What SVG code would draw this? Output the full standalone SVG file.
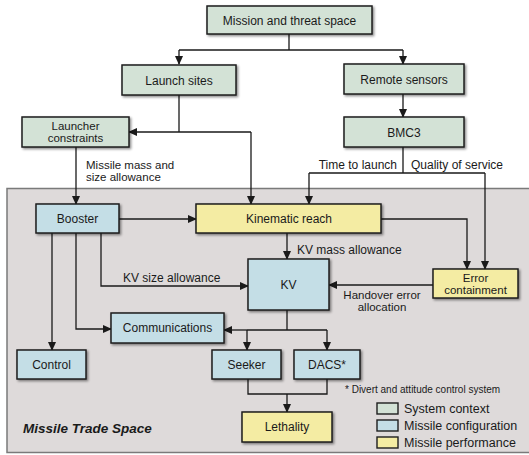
<svg xmlns="http://www.w3.org/2000/svg" width="529" height="455" viewBox="0 0 529 455">
<defs>
<marker id="arr" markerWidth="9" markerHeight="8" refX="8" refY="4" orient="auto" markerUnits="userSpaceOnUse">
<path d="M0,0 L9,4 L0,8 Z" fill="#1a1a1a"/>
</marker>
<filter id="sh" x="-10%" y="-10%" width="130%" height="140%">
<feDropShadow dx="1.5" dy="1.5" stdDeviation="0.8" flood-color="#000" flood-opacity="0.45"/>
</filter>
<style>
text{font-family:"Liberation Sans",Arial,Helvetica,sans-serif;font-size:12px;fill:#1a1a1a}
.c{text-anchor:middle}
.t2{font-size:11.5px}
.box{stroke:#1e1e1e;stroke-width:1.5;filter:url(#sh)}
.ctx{fill:#d3e2d6}
.cfg{fill:#c4dee6}
.perf{fill:#f4eca3}
.ln{fill:none;stroke:#1a1a1a;stroke-width:1.3}
.ar{marker-end:url(#arr)}
.lg{stroke:#1e1e1e;stroke-width:1.4}
</style>
</defs>
<rect width="529" height="455" fill="#ffffff"/>
<rect id="trade-space" x="7" y="188.5" width="530" height="264" fill="#dedada" stroke="#7a7a7a" stroke-width="1.5"/>

<g id="connectors">
<path class="ln" d="M289,34 V50 M179,50 H403"/>
<path class="ln ar" d="M179,50 V64"/>
<path class="ln ar" d="M403,50 V64"/>
<path class="ln ar" d="M403,94 V117"/>
<path class="ln" d="M403,147 V173 M309,173 H485"/>
<path class="ln ar" d="M309,173 V204"/>
<path class="ln ar" d="M485,173 V269"/>
<path class="ln" d="M179,95 V132 M179,132 H251"/>
<path class="ln ar" d="M179,132 H129"/>
<path class="ln ar" d="M251,132 V204"/>
<path class="ln ar" d="M76,147 V204"/>
<path class="ln ar" d="M119,219 H196"/>
<path class="ln ar" d="M381,219 H467 V269"/>
<path class="ln ar" d="M287,233 V259"/>
<path class="ln ar" d="M101,233 V286 H248"/>
<path class="ln ar" d="M76,233 V329 H111"/>
<path class="ln ar" d="M52,233 V350"/>
<path class="ln ar" d="M433,285 H329"/>
<path class="ln" d="M287,310 V330 M247,330 H327"/>
<path class="ln ar" d="M247,330 H224"/>
<path class="ln ar" d="M247,330 V350"/>
<path class="ln ar" d="M327,330 V350"/>
<path class="ln" d="M248,379 V394 H327 V379"/>
<path class="ln ar" d="M287,394 V412"/>
</g>

<g id="labels">
<text class="t2" x="86" y="168.5">Missile mass and</text>
<text class="t2" x="86" y="181">size allowance</text>
<text x="397" y="169" text-anchor="end">Time to launch</text>
<text x="411" y="169">Quality of service</text>
<text x="297" y="254">KV mass allowance</text>
<text x="123" y="282">KV size allowance</text>
<text x="382" y="298.5" class="c t2">Handover error</text>
<text x="382" y="311" class="c t2">allocation</text>
<text x="345" y="392.5" style="font-size:10px">* Divert and attitude control system</text>
<text x="23" y="433" style="font-size:13.5px;font-weight:bold;font-style:italic">Missile Trade Space</text>
</g>

<g id="mission"><rect class="box ctx" x="207" y="6" width="165" height="28"/><text class="c" x="289.5" y="24.5">Mission and threat space</text></g>
<g id="launch-sites"><rect class="box ctx" x="122" y="65" width="114" height="30"/><text class="c" x="179" y="84.5">Launch sites</text></g>
<g id="remote-sensors"><rect class="box ctx" x="344" y="64" width="120" height="30"/><text class="c" x="404" y="83.5">Remote sensors</text></g>
<g id="bmc3"><rect class="box ctx" x="344" y="117" width="120" height="30"/><text class="c" x="404" y="136.5">BMC3</text></g>
<g id="launcher-constraints"><rect class="box ctx" x="22" y="117" width="107" height="30"/><text class="c t2" x="75.5" y="129.5">Launcher</text><text class="c t2" x="75.5" y="142">constraints</text></g>
<g id="booster"><rect class="box cfg" x="36" y="204" width="83" height="29"/><text class="c" x="77.5" y="223">Booster</text></g>
<g id="kinematic-reach"><rect class="box perf" x="196" y="204" width="185" height="29"/><text class="c" x="289" y="223">Kinematic reach</text></g>
<g id="kv"><rect class="box cfg" x="248" y="259" width="81" height="51"/><text class="c" x="288.5" y="288.5">KV</text></g>
<g id="error-containment"><rect class="box perf" x="433" y="269" width="85" height="29"/><text class="c t2" x="475.5" y="281.5">Error</text><text class="c t2" x="475.5" y="294">containment</text></g>
<g id="communications"><rect class="box cfg" x="111" y="313" width="113" height="30"/><text class="c" x="167.5" y="332">Communications</text></g>
<g id="control"><rect class="box cfg" x="17" y="350" width="69" height="29"/><text class="c" x="51.5" y="369">Control</text></g>
<g id="seeker"><rect class="box cfg" x="212" y="350" width="69" height="29"/><text class="c" x="246.5" y="369">Seeker</text></g>
<g id="dacs"><rect class="box cfg" x="294" y="350" width="66" height="29"/><text class="c" x="327" y="369">DACS*</text></g>
<g id="lethality"><rect class="box perf" x="242" y="412" width="90" height="30"/><text class="c" x="287" y="431">Lethality</text></g>

<g id="legend">
<rect class="lg ctx" x="377" y="403" width="21" height="11"/>
<rect class="lg cfg" x="377" y="420" width="21" height="11"/>
<rect class="lg perf" x="377" y="437" width="21" height="11"/>
<text x="404" y="413" style="font-size:12.5px">System context</text>
<text x="404" y="430" style="font-size:12.5px">Missile configuration</text>
<text x="404" y="447" style="font-size:12.5px">Missile performance</text>
</g>
</svg>
